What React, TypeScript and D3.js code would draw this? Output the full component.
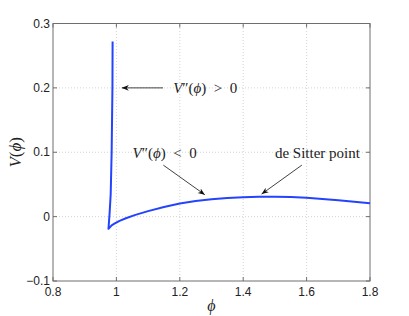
import React, { useEffect, useRef } from 'react';
import * as d3 from 'd3';

// upper branch (spike), from top down to the cusp
const spikePhi = [0.988, 0.9875, 0.985, 0.982, 0.9785, 0.975];
const spikeV = [0.272, 0.2, 0.1, 0.035, 0.005, -0.019];

// lower branch, from the cusp to the right edge
const branchPhi = [0.975, 0.985, 0.995, 1.01, 1.03, 1.06, 1.1, 1.15, 1.2, 1.25, 1.3, 1.35, 1.4, 1.45, 1.5, 1.55, 1.6, 1.65, 1.7, 1.75, 1.8];
const branchV = [-0.019, -0.0135, -0.0105, -0.0065, -0.0025, 0.0027, 0.0085, 0.015, 0.0203, 0.0244, 0.027, 0.0288, 0.03, 0.031, 0.031, 0.0303, 0.0292, 0.0275, 0.0255, 0.023, 0.0207];

const xTicks = [0.8, 1, 1.2, 1.4, 1.6, 1.8];
const yTicks = [-0.1, 0, 0.1, 0.2, 0.3];

const W = 409;
const H = 316;
const PHI = '\u03d5';

const App: React.FC = () => {
  const svgRef = useRef<SVGSVGElement>(null);

  useEffect(() => {
    if (!svgRef.current) return;
    const svg = d3.select(svgRef.current);
    svg.selectAll('*').remove();

    const margin = { top: 23.5, right: 39, bottom: 35, left: 53 };
    const x = d3.scaleLinear().domain([0.8, 1.8]).range([margin.left, W - margin.right]);
    const y = d3.scaleLinear().domain([-0.1, 0.3]).range([H - margin.bottom, margin.top]);
    const [x0, x1] = x.range();
    const [y0, y1] = y.range();

    const axisColor = '#6e6e6e';
    const sans = '"Liberation Sans", Arial, sans-serif';
    const serif = '"Liberation Serif", "DejaVu Serif", "Times New Roman", serif';

    // grid
    const grid = svg.append('g').attr('stroke', '#c8c8c8').attr('stroke-width', 0.8).attr('stroke-dasharray', '1,2');
    xTicks.slice(1, -1).forEach(t => {
      grid.append('line').attr('x1', x(t)).attr('x2', x(t)).attr('y1', y0).attr('y2', y1);
    });
    yTicks.slice(1, -1).forEach(t => {
      grid.append('line').attr('x1', x0).attr('x2', x1).attr('y1', y(t)).attr('y2', y(t));
    });

    // box + inward ticks
    svg.append('rect')
      .attr('x', x0).attr('y', y1).attr('width', x1 - x0).attr('height', y0 - y1)
      .attr('fill', 'none').attr('stroke', axisColor).attr('stroke-width', 1);
    const tl = 4;
    const ticks = svg.append('g').attr('stroke', axisColor).attr('stroke-width', 1);
    xTicks.forEach(t => {
      ticks.append('line').attr('x1', x(t)).attr('x2', x(t)).attr('y1', y0).attr('y2', y0 - tl);
      ticks.append('line').attr('x1', x(t)).attr('x2', x(t)).attr('y1', y1).attr('y2', y1 + tl);
    });
    yTicks.forEach(t => {
      ticks.append('line').attr('x1', x0).attr('x2', x0 + tl).attr('y1', y(t)).attr('y2', y(t));
      ticks.append('line').attr('x1', x1).attr('x2', x1 - tl).attr('y1', y(t)).attr('y2', y(t));
    });

    // tick labels
    const fmt = (v: number) => (v < 0 ? '\u2212' : '') + String(Math.abs(Math.round(v * 10) / 10));
    svg.append('g').selectAll('text').data(xTicks).enter().append('text')
      .attr('x', d => x(d)).attr('y', y0 + 15)
      .attr('text-anchor', 'middle')
      .style('font-family', sans).style('font-size', '12px').style('fill', '#222')
      .text(d => fmt(d));
    svg.append('g').selectAll('text').data(yTicks).enter().append('text')
      .attr('x', x0 - 3).attr('y', d => y(d)).attr('dy', '0.35em')
      .attr('text-anchor', 'end')
      .style('font-family', sans).style('font-size', '12px').style('fill', '#222')
      .text(d => fmt(d));

    // axis labels
    svg.append('text')
      .attr('x', (x0 + x1) / 2).attr('y', 311)
      .attr('text-anchor', 'middle')
      .style('font-family', serif).style('font-style', 'italic').style('font-size', '16px').style('fill', '#222')
      .text(PHI);
    const yl = svg.append('text')
      .attr('transform', `translate(21,${(y0 + y1) / 2}) rotate(-90)`)
      .attr('text-anchor', 'middle')
      .style('font-family', serif).style('font-size', '17px').style('fill', '#222');
    yl.append('tspan').style('font-style', 'italic').text('V');
    yl.append('tspan').text('(');
    yl.append('tspan').style('font-style', 'italic').text(PHI);
    yl.append('tspan').text(')');

    // curve
    const pts: [number, number][] = [
      ...spikePhi.map((p, i) => [p, spikeV[i]] as [number, number]),
      ...branchPhi.slice(1).map((p, i) => [p, branchV[i + 1]] as [number, number]),
    ];
    const line = d3.line<[number, number]>().x(d => x(d[0])).y(d => y(d[1]));
    svg.append('path').datum(pts)
      .attr('d', line)
      .attr('fill', 'none').attr('stroke', '#2443ff').attr('stroke-width', 2)
      .attr('stroke-linejoin', 'round');

    // annotations
    const defs = svg.append('defs');
    defs.append('marker')
      .attr('id', 'ah').attr('viewBox', '0 0 10 10').attr('refX', 10).attr('refY', 5)
      .attr('markerWidth', 7).attr('markerHeight', 7).attr('orient', 'auto-start-reverse')
      .attr('markerUnits', 'userSpaceOnUse')
      .append('path').attr('d', 'M0,1 L10,5 L0,9 L3,5 Z').attr('fill', '#111');

    const arrow = (p0: number, v0: number, p1: number, v1: number) => {
      svg.append('line')
        .attr('x1', x(p0)).attr('y1', y(v0)).attr('x2', x(p1)).attr('y2', y(v1))
        .attr('stroke', '#111').attr('stroke-width', 0.8)
        .attr('marker-end', 'url(#ah)');
    };
    const vpp = (p: number, v: number, rel: string) => {
      const t = svg.append('text')
        .attr('x', x(p)).attr('y', y(v)).attr('dy', '0.35em')
        .style('font-family', serif).style('font-size', '15px').style('fill', '#222');
      t.append('tspan').style('font-style', 'italic').text('V');
      t.append('tspan').text('\u2033(');
      t.append('tspan').style('font-style', 'italic').text(PHI);
      t.append('tspan').text(`)\u2002${rel}\u20020`);
    };

    arrow(1.147, 0.2, 1.017, 0.2);
    vpp(1.179, 0.2, '>');

    vpp(1.051, 0.1, '<');
    arrow(1.148, 0.08, 1.279, 0.034);

    svg.append('text')
      .attr('x', x(1.5)).attr('y', y(0.1)).attr('dy', '0.35em')
      .style('font-family', serif).style('font-size', '15px').style('fill', '#222')
      .text('de Sitter point');
    arrow(1.585, 0.08, 1.458, 0.035);
  }, []);

  return (
    <svg
      ref={svgRef}
      width={W}
      height={H}
      style={{ position: 'absolute', left: 0, top: 0, background: '#fff' }}
    />
  );
};

export default App;
